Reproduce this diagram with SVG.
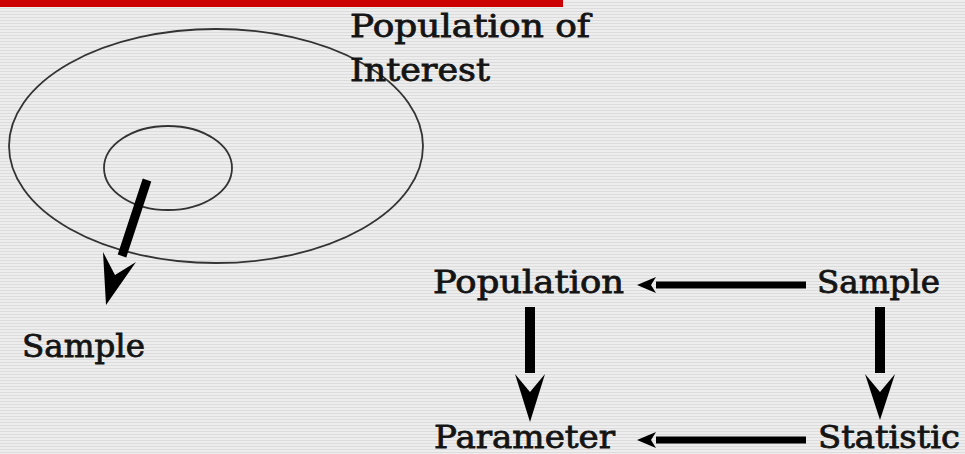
<svg xmlns="http://www.w3.org/2000/svg" width="965" height="454" viewBox="0 0 965 454">
  <defs>
    <pattern id="stripes" width="8" height="3" patternUnits="userSpaceOnUse">
      <rect width="8" height="3" fill="#ededed"/>
      <rect y="2" width="8" height="1" fill="#dcdcdc"/>
    </pattern>
  </defs>
  <style>
    .lbl { font-family: "DejaVu Serif", "Liberation Serif", serif; font-size: 31px; fill: #141414; stroke: #141414; stroke-width: 0.8; }
    .ell { fill: none; stroke: #333; stroke-width: 1.8; }
    .shaft { stroke: #000; fill: none; }
    .head { fill: #000; }
  </style>
  <rect width="965" height="454" fill="url(#stripes)"/>
  <rect x="0" y="0" width="563" height="7" fill="#cc0000"/>

  <g id="population-of-interest">
    <ellipse class="ell" cx="216" cy="146" rx="207" ry="117"/>
    <text class="lbl" x="350" y="37" textLength="240" lengthAdjust="spacingAndGlyphs">Population of</text>
    <text class="lbl" x="350" y="81" textLength="140" lengthAdjust="spacingAndGlyphs">Interest</text>
  </g>
  <g id="sample-region">
    <ellipse class="ell" cx="168" cy="168" rx="64" ry="42"/>
  </g>
  <g id="sample-label">
    <text class="lbl" x="22" y="357" textLength="123" lengthAdjust="spacingAndGlyphs">Sample</text>
  </g>
  <g id="node-population">
    <text class="lbl" x="433" y="293" textLength="191" lengthAdjust="spacingAndGlyphs">Population</text>
  </g>
  <g id="node-sample">
    <text class="lbl" x="817" y="293" textLength="123" lengthAdjust="spacingAndGlyphs">Sample</text>
  </g>
  <g id="node-parameter">
    <text class="lbl" x="434" y="448" textLength="181" lengthAdjust="spacingAndGlyphs">Parameter</text>
  </g>
  <g id="node-statistic">
    <text class="lbl" x="818" y="448" textLength="142" lengthAdjust="spacingAndGlyphs">Statistic</text>
  </g>

  <g id="connectors">
    <!-- sample out of inner ellipse -->
    <line class="shaft" x1="147" y1="180" x2="122" y2="256" stroke-width="9"/>
    <polygon class="head" points="103,252 115,275 136,262 106,305"/>
    <!-- Population -> Parameter -->
    <line class="shaft" x1="530" y1="307" x2="530" y2="373" stroke-width="10"/>
    <polygon class="head" points="515,374 530,392 545,374 530,422"/>
    <!-- Sample -> Statistic -->
    <line class="shaft" x1="880" y1="307" x2="880" y2="373" stroke-width="10"/>
    <polygon class="head" points="865,374 880,392 895,374 880,420"/>
    <!-- Sample -> Population -->
    <line class="shaft" x1="656" y1="285" x2="806" y2="285" stroke-width="7"/>
    <polygon class="head" points="637,285 656,277 651,285 656,293"/>
    <!-- Statistic -> Parameter -->
    <line class="shaft" x1="656" y1="440" x2="806" y2="440" stroke-width="7"/>
    <polygon class="head" points="637,440 656,432 651,440 656,448"/>
  </g>
</svg>
